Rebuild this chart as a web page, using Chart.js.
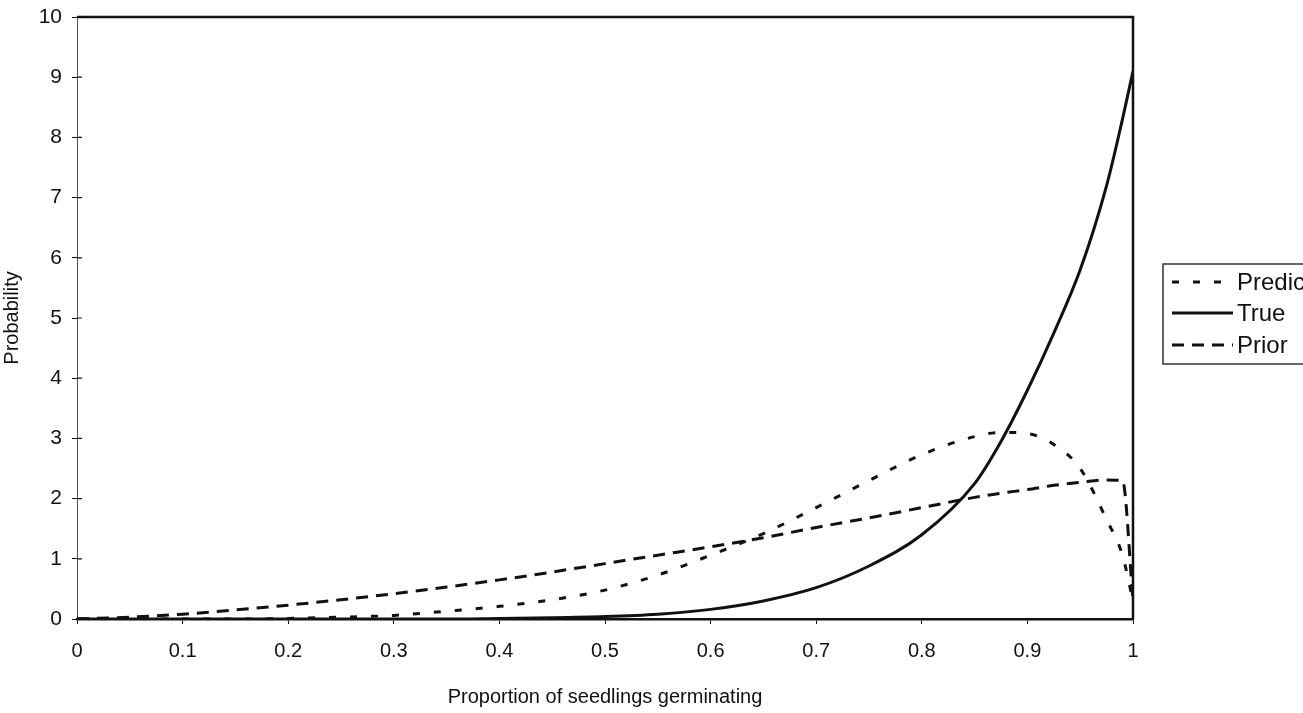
<!DOCTYPE html>
<html>
<head>
<meta charset="utf-8">
<script src="https://cdn.jsdelivr.net/npm/chart.js@4/dist/chart.umd.min.js"></script>
<style>
  html, body { margin: 0; padding: 0; background: #fff; overflow: hidden; }
  #wrap { width: 1303px; height: 713px; }
</style>
</head>
<body>
<div id="wrap"><canvas id="chart" width="1303" height="713"></canvas></div>
<script>
  // x positions (proportion germinating)
  const xs = [0, 0.05, 0.1, 0.15, 0.2, 0.25, 0.3, 0.35, 0.4, 0.45, 0.5, 0.55, 0.6,
              0.65, 0.7, 0.75, 0.8, 0.85, 0.875, 0.9, 0.925, 0.95, 0.975, 0.99, 1];

  const predictive = [0, 0, 0, 0, 0.01, 0.03, 0.06, 0.13, 0.21, 0.32, 0.48, 0.73, 1.06,
                      1.42, 1.85, 2.3, 2.73, 3.03, 3.1, 3.08, 2.9, 2.5, 1.65, 1.06, 0.3];
  const trueDist   = [0, 0, 0, 0, 0, 0, 0, 0, 0.01, 0.02, 0.04, 0.08, 0.16,
                      0.3, 0.52, 0.88, 1.4, 2.25, 2.95, 3.8, 4.75, 5.8, 7.2, 8.3, 9.1];
  const prior      = [0, 0.03, 0.08, 0.15, 0.23, 0.32, 0.42, 0.53, 0.65, 0.78, 0.92, 1.06, 1.2,
                      1.35, 1.52, 1.68, 1.85, 2.02, 2.09, 2.15, 2.22, 2.27, 2.31, 2.3, 0.3];

  const seriesNames = ["Predictive", "True", "Prior"];
  const FONT = "'Liberation Sans', Arial, sans-serif";
  const pts = (ys) => xs.map((x, i) => ({ x, y: ys[i] }));

  const line = (label, ys, dash) => ({
    label,
    data: pts(ys),
    borderColor: "#111",
    borderWidth: 3,
    borderDash: dash,
    pointRadius: 0,
    fill: false,
    cubicInterpolationMode: "monotone"
  });

  // top/right frame, inner tick marks and the boxed legend
  const framePlugin = {
    id: "frame",
    afterDraw(chart) {
      const { ctx, chartArea: a, scales } = chart;
      ctx.save();
      ctx.strokeStyle = "#111";
      ctx.lineWidth = 2.5;
      ctx.beginPath();
      ctx.moveTo(a.left, a.top);
      ctx.lineTo(a.right, a.top);
      ctx.lineTo(a.right, a.bottom);
      ctx.stroke();

      // ticks crossing into the plot
      ctx.lineWidth = 1.2;
      ctx.beginPath();
      scales.y.ticks.forEach(t => {
        const py = scales.y.getPixelForValue(t.value);
        ctx.moveTo(a.left, py);
        ctx.lineTo(a.left + 5, py);
      });
      ctx.stroke();

      // legend
      const lx = 1163, ly = 264, rows = [282, 313, 345];
      ctx.lineWidth = 1.5;
      ctx.strokeStyle = "#333";
      ctx.strokeRect(lx, ly, 160, 100);
      chart.data.datasets.forEach((ds, i) => {
        ctx.strokeStyle = "#111";
        ctx.lineWidth = 3;
        ctx.setLineDash(ds.borderDash || []);
        ctx.beginPath();
        ctx.moveTo(1172, rows[i]);
        ctx.lineTo(1233, rows[i]);
        ctx.stroke();
        ctx.setLineDash([]);
        ctx.fillStyle = "#111";
        ctx.font = `24px ${FONT}`;
        ctx.textBaseline = "middle";
        ctx.fillText(ds.label, 1237, rows[i] + 1);
      });
      ctx.restore();
    }
  };

  new Chart(document.getElementById("chart"), {
    type: "line",
    data: {
      datasets: [
        line(seriesNames[0], predictive, [7, 14]),
        line(seriesNames[1], trueDist, []),
        line(seriesNames[2], prior, [12, 8])
      ]
    },
    options: {
      responsive: false,
      animation: false,
      layout: { padding: { left: 0, top: 17, right: 170, bottom: 0 } },
      plugins: { legend: { display: false }, tooltip: { enabled: false } },
      scales: {
        x: {
          type: "linear",
          min: 0, max: 1,
          ticks: {
            stepSize: 0.1, color: "#111", padding: 15, font: { family: FONT, size: 20 },
            callback: (v) => String(Math.round(v * 10) / 10)
          },
          grid: { drawOnChartArea: false, tickLength: 5, color: "#111" },
          border: { color: "#111", width: 2.5 },
          title: { display: true, text: "Proportion of seedlings germinating", color: "#111",
                   font: { family: FONT, size: 20 }, padding: { top: 0, bottom: 4 } },
          afterFit(scale) { scale.height = 94; }
        },
        y: {
          min: 0, max: 10,
          ticks: { stepSize: 1, color: "#111", padding: 10, font: { family: FONT, size: 21 } },
          grid: { drawOnChartArea: false, tickLength: 5, color: "#111" },
          border: { color: "#555", width: 1 },
          title: { display: true, text: "Probability", color: "#111",
                   font: { family: FONT, size: 20 }, padding: { top: 0, bottom: 0 } },
          afterFit(scale) {
            scale.width = 77;
            scale.paddingTop = 0;
            scale.paddingBottom = 0;
          }
        }
      }
    },
    plugins: [framePlugin]
  });
</script>
</body>
</html>
